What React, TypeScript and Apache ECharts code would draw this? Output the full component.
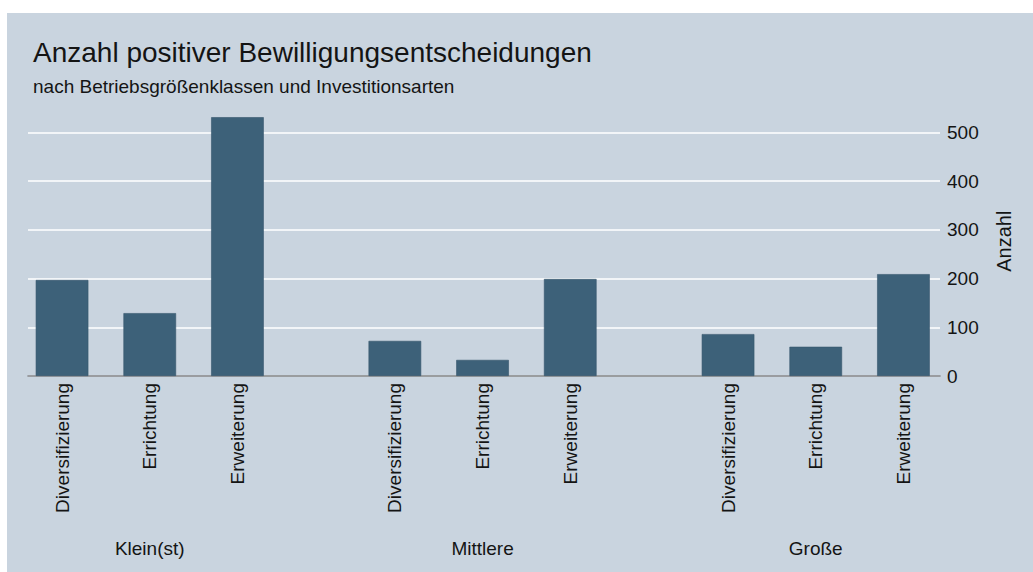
import React, { useEffect, useRef } from "react";
import * as echarts from "echarts";

const groups = ["Klein(st)", "Mittlere", "Große"];
const types = ["Diversifizierung", "Errichtung", "Erweiterung"];
const kleinValues = [197, 129, 531];
const mittlereValues = [72, 33, 199];
const grosseValues = [86, 60, 209];
const groupValues = [kleinValues, mittlereValues, grosseValues];

const titleText = "Anzahl positiver Bewilligungsentscheidungen";
const subtitleText = "nach Betriebsgrößenklassen und Investitionsarten";
const yAxisName = "Anzahl";

const FONT = "'Liberation Sans', Arial, sans-serif";
const TEXT_COLOR = "#141414";
const W = 1033;
const H = 572;
const AXIS_Y = 376; // pixel position of zero line
const PX_PER_UNIT = 0.4874;
const BAR_MAX = 540;
const GRID_MAX = 500;
const BAND = 87.7;
const groupLefts = [18.2, 351, 684.2];

export default function App() {
  const ref = useRef<HTMLDivElement>(null);
  useEffect(() => {
    if (!ref.current) return;
    const chart = echarts.init(ref.current, undefined, { renderer: "svg" });
    const bottom = H - AXIS_Y;
    const barTop = AXIS_Y - BAR_MAX * PX_PER_UNIT;
    const gridTop = AXIS_Y - GRID_MAX * PX_PER_UNIT;
    const grids: any[] = [
      { left: 28, right: W - 940, top: gridTop, bottom, containLabel: false },
      ...groupLefts.map((l) => ({ left: l, width: BAND * 3, top: barTop, bottom, containLabel: false })),
    ];
    const xAxes: any[] = [
      {
        gridIndex: 0,
        type: "value",
        min: 0,
        max: 1,
        axisLine: { show: true, lineStyle: { color: "#7d7f82", width: 1.5 } },
        axisTick: { show: false },
        axisLabel: { show: false },
        splitLine: { show: false },
      },
      ...groups.map((g, i) => ({
        gridIndex: i + 1,
        type: "category",
        data: types,
        name: g,
        nameLocation: "middle",
        nameGap: 163,
        nameTextStyle: { fontSize: 19, fontFamily: FONT, color: TEXT_COLOR },
        axisLine: { show: false },
        axisTick: { show: false },
        axisLabel: { rotate: 90, fontSize: 19, fontFamily: FONT, color: TEXT_COLOR, margin: 7 },
      })),
    ];
    const yAxes: any[] = [
      {
        gridIndex: 0,
        type: "value",
        position: "right",
        min: 0,
        max: GRID_MAX,
        interval: 100,
        axisLine: { show: false },
        axisTick: { show: false },
        axisLabel: { fontSize: 19, fontFamily: FONT, color: TEXT_COLOR, margin: 7 },
        splitLine: { show: true, lineStyle: { color: "#f2f5f8", width: 2.2 } },
        name: yAxisName,
        nameLocation: "middle",
        nameRotate: 90,
        nameGap: 54,
        nameTextStyle: { fontSize: 20, fontFamily: FONT, color: TEXT_COLOR, padding: [0, 0, 0, 26] },
      },
      ...groups.map((_, i) => ({
        gridIndex: i + 1,
        type: "value",
        min: 0,
        max: BAR_MAX,
        show: false,
        splitLine: { show: false },
      })),
    ];
    const series: any[] = groupValues.map((vals, i) => ({
      type: "bar",
      xAxisIndex: i + 1,
      yAxisIndex: i + 1,
      data: vals,
      barWidth: "60%",
      itemStyle: { color: "#3d6179", borderColor: "#36566c", borderWidth: 0.6 },
      z: 3,
    }));
    chart.setOption({
      animation: false,
      backgroundColor: "transparent",
      title: [
        {
          text: titleText,
          left: 33,
          top: 38,
          padding: 0,
          textStyle: { fontSize: 28, fontWeight: "normal", fontFamily: FONT, color: TEXT_COLOR },
        },
        {
          text: subtitleText,
          left: 33,
          top: 77,
          padding: 0,
          textStyle: { fontSize: 19, fontWeight: "normal", fontFamily: FONT, color: TEXT_COLOR },
        },
      ],
      grid: grids,
      xAxis: xAxes,
      yAxis: yAxes,
      series,
    });
    return () => chart.dispose();
  }, []);
  return (
    <div style={{ position: "fixed", left: 0, top: 0, width: W, height: H, background: "#ffffff" }}>
      <div style={{ position: "absolute", left: 7, top: 13, right: 0, bottom: 0, background: "#c9d4df" }} />
      <div ref={ref} style={{ position: "absolute", left: 0, top: 0, width: W, height: H }} />
    </div>
  );
}
